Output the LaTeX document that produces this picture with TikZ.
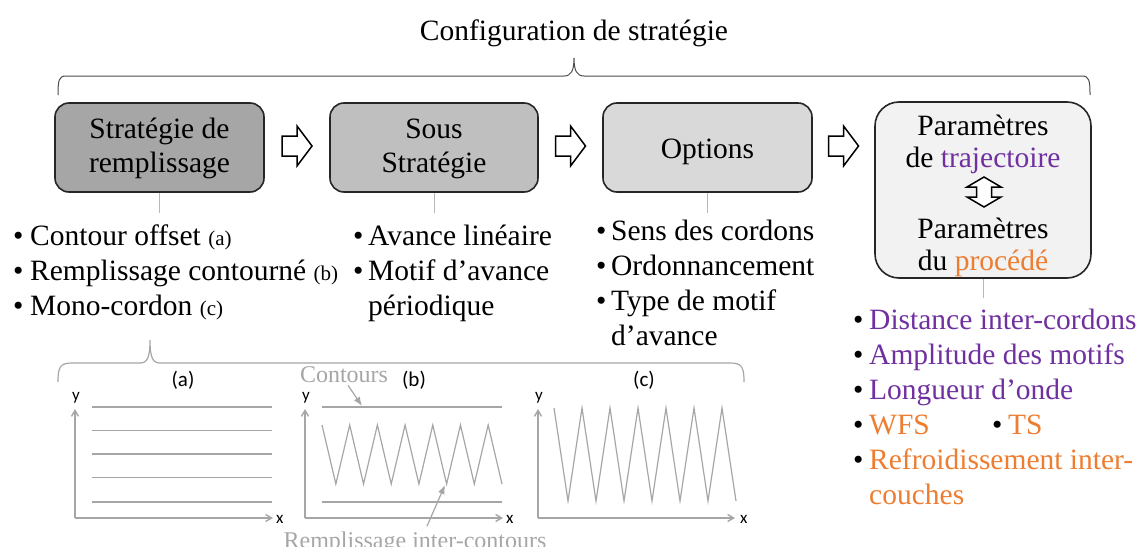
\documentclass[tikz,border=0pt]{standalone}
\usepackage{fontspec}
\setmainfont{Liberation Serif}
\newfontfamily\plotfont{Carlito}
\usetikzlibrary{arrows.meta}
\definecolor{purp}{HTML}{7030A0}
\definecolor{orng}{HTML}{ED7D31}
\definecolor{plotgray}{HTML}{A6A6A6}
\definecolor{edgec}{HTML}{262626}
\newcommand\bu[1]{\makebox[#1][l]{•}}
\newcommand\smalltag[1]{{\fontsize{21}{21}\selectfont #1}}
\begin{document}
\begin{tikzpicture}[x=1pt,y=-1pt,
  txt/.style={inner sep=0pt, font=\fontsize{29.5}{35}\selectfont},
  boxtxt/.style={inner sep=0pt, font=\fontsize{29.5}{34}\selectfont, anchor=base},
  box/.style={draw=edgec, line width=1.6pt, rounded corners=14pt, inner sep=0pt},
  blockarrow/.style={draw=black, fill=white, line width=1.5pt, line join=miter},
  stem/.style={draw=black!28, line width=0.9pt},
  brace/.style={draw=black!70, line width=1pt},
  gbrace/.style={draw=plotgray, line width=1.2pt},
  pl/.style={draw=plotgray, line width=1.5pt},
  axis/.style={draw=plotgray, line width=1.4pt, -{Straight Barb[length=6pt,width=7pt]}},
  garrow/.style={draw=plotgray, line width=1.2pt, -{Latex[length=9pt,width=7pt]}},
  plab/.style={inner sep=0pt, font=\plotfont\fontsize{21}{21}\selectfont},
  axlab/.style={inner sep=0pt, font=\plotfont\fontsize{17}{17}\selectfont},
  gtxt/.style={inner sep=0pt, text=plotgray, font=\fontsize{24}{24}\selectfont}
]
\useasboundingbox (0,0) rectangle (1140,546);

% title and top brace
\node[txt, anchor=base] (title) at (574,40) {Configuration de stratégie};
\draw[brace] (58,95) .. controls (58,80) and (59,76) .. (66,76) -- (564,76)
  .. controls (571,76) and (574,71) .. (574,58)
  .. controls (574,71) and (577,76) .. (584,76) -- (1082,76)
  .. controls (1089,76) and (1090,80) .. (1090,95);

% boxes
\node[box, fill=black!35, minimum width=209pt, minimum height=89pt] (b1) at (159.5,147.5) {};
\node[box, fill=black!25, minimum width=208pt, minimum height=89pt] (b2) at (434,147.5) {};
\node[box, fill=black!15, minimum width=209pt, minimum height=89pt] (b3) at (707.5,147.5) {};
\node[box, fill=black!5, rounded corners=24pt, minimum width=216pt, minimum height=176pt] (b4) at (983,190) {};

\node[boxtxt] (t1) at (159.5,138) {\begin{tabular}[t]{@{}c@{}}Stratégie de\\remplissage\end{tabular}};
\node[boxtxt] (t2) at (434,138) {\begin{tabular}[t]{@{}c@{}}Sous\\Stratégie\end{tabular}};
\node[boxtxt] (t3) at (707.5,158) {Options};
\node[boxtxt, font=\fontsize{29.5}{32}\selectfont] (t4a) at (983,135) {\begin{tabular}[t]{@{}c@{}}Paramètres\\de \textcolor{purp}{trajectoire}\end{tabular}};
\node[boxtxt, font=\fontsize{29.5}{32}\selectfont] (t4b) at (983,238) {\begin{tabular}[t]{@{}c@{}}Paramètres\\du \textcolor{orng}{procédé}\end{tabular}};

% double arrow in box 4
\coordinate (da) at (984,192);
\draw[blockarrow] ([shift={(0,-15)}]da) -- ++(17,10) -- ++(-9.5,0) -- ++(0,10) -- ++(9.5,0)
  -- ++(-17,10) -- ++(-17,-10) -- ++(9.5,0) -- ++(0,-10) -- ++(-9.5,0) -- cycle;

% block arrows between boxes
\foreach \p/\q/\n in {b1/b2/a1, b2/b3/a2, b3/b4/a3} {
  \path (\p.east |- 0,146) -- coordinate (\n) (\q.west |- 0,146);
  \draw[blockarrow] ([shift={(-15,-10)}]\n) -- ++(15,0) -- ++(0,-10) -- ++(15,20)
    -- ++(-15,20) -- ++(0,-10) -- ++(-15,0) -- cycle;
}

% stems
\draw[stem] (b1.south) -- ++(0,20);
\draw[stem] (b2.south) -- ++(0,20);
\draw[stem] (b3.south) -- ++(0,20);
\draw[stem] (b4.south) -- ++(0,19);

% bullet lists
\node[txt, anchor=base west] (l1) at (13,245) {\begin{tabular}[t]{@{}l@{}}
\bu{17pt}Contour offset \smalltag{(a)}\\
\bu{17pt}Remplissage contourné \smalltag{(b)}\\
\bu{17pt}Mono-cordon \smalltag{(c)}
\end{tabular}};
\node[txt, anchor=base west] (l2) at (353,245) {\begin{tabular}[t]{@{}l@{}}
\bu{15pt}Avance linéaire\\
\bu{15pt}Motif d’avance\\
\hspace*{15pt}périodique
\end{tabular}};
\node[txt, anchor=base west] (l3) at (596,240) {\begin{tabular}[t]{@{}l@{}}
\bu{15pt}Sens des cordons\\
\bu{15pt}Ordonnancement\\
\bu{15pt}Type de motif\\
\hspace*{15pt}d’avance
\end{tabular}};
\node[txt, anchor=base west] (l4) at (853,329) {\begin{tabular}[t]{@{}l@{}}
\bu{16pt}\textcolor{purp}{Distance inter-cordons}\\
\bu{16pt}\textcolor{purp}{Amplitude des motifs}\\
\bu{16pt}\textcolor{purp}{Longueur d’onde}\\
\bu{16pt}\makebox[123pt][l]{\textcolor{orng}{WFS}}\bu{16pt}\textcolor{orng}{TS}\\
\bu{16pt}\textcolor{orng}{Refroidissement inter-}\\
\hspace*{16pt}\textcolor{orng}{couches}
\end{tabular}};

% bottom brace
\draw[gbrace] (58,382) .. controls (58,367) and (60,363) .. (72,363) -- (140,363)
  .. controls (147,363) and (150,358) .. (150,340)
  .. controls (150,358) and (153,363) .. (160,363) -- (730,363)
  .. controls (742,363) and (744,367) .. (744,382);

% plot labels
\node[plab] (pa) at (183,380) {(a)};
\node[plab] (pb) at (414,380) {(b)};
\node[plab] (pc) at (644,380) {(c)};

% plot (a)
\coordinate (oa) at (75,518);
\draw[axis] (oa) -- ++(0,-109);
\draw[axis] (oa) -- ++(198,0);
\node[axlab] (ya) at (76,398) {y};
\node[axlab, anchor=west] (xa) at (276,519) {x};
\foreach \yy in {407,430.5,454,477.5,502} \draw[pl] (92,\yy) -- (272,\yy);

% plot (b)
\coordinate (ob) at (305,518);
\draw[axis] (ob) -- ++(0,-109);
\draw[axis] (ob) -- ++(198,0);
\node[axlab] (yb) at (306,398) {y};
\node[axlab, anchor=west] (xb) at (506,519) {x};
\draw[pl] (322,407) -- (502,407);
\draw[pl] (322,502) -- (502,502);
\draw[pl, line width=1.2pt] (322,425) \foreach \i in {1,...,13} { -- ({322+\i*13.846},{454.5-29.5*cos(180*\i)}) };
\node[gtxt] (cont) at (344,375) {Contours};
\coordinate (contend) at (362,406);
\draw[garrow] ([xshift=4pt,yshift=-2pt]cont.south) -- (contend);
\node[gtxt, anchor=base] (rem) at (415,548) {Remplissage inter-contours};
\coordinate (remend) at (445,485);
\draw[garrow] ([xshift=12pt,yshift=5pt]rem.north) -- (remend);

% plot (c)
\coordinate (oc) at (538,518);
\draw[axis] (oc) -- ++(0,-109);
\draw[axis] (oc) -- ++(197,0);
\node[axlab] (yc) at (539,398) {y};
\node[axlab, anchor=west] (xc) at (740,519) {x};
\draw[pl, line width=1.2pt] (554,408) \foreach \i in {1,...,13} { -- ({554+\i*14},{454.5-46.5*cos(180*\i)}) };
\end{tikzpicture}
\end{document}
